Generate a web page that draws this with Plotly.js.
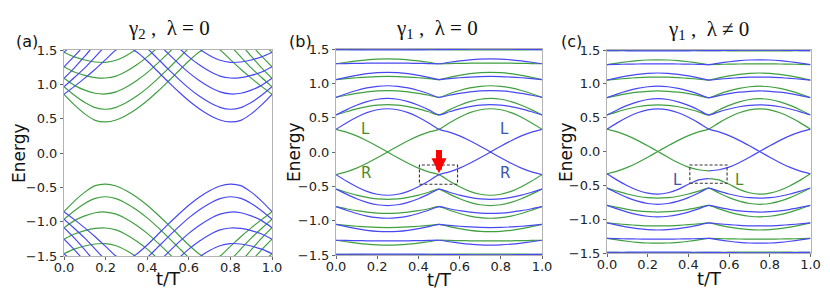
<!DOCTYPE html>
<html><head><meta charset="utf-8">
<script src="https://cdn.plot.ly/plotly-3.0.1.min.js"></script>
<style>html,body{margin:0;padding:0;background:#fff}</style>
</head><body><div id="chart" style="width:830px;height:302px"></div>
<script>
// ---- shared grids ----
const T   = [0,0.05,0.1,0.15,0.2,0.25,0.3,0.35,0.4,0.45,0.5,0.55,0.6,0.65,0.7,0.75,0.8,0.85,0.9,0.95,1.0];
const TH1 = [0,0.05,0.1,0.15,0.2,0.25,0.3,0.35,0.4,0.45,0.5];
const TH2 = [0.5,0.55,0.6,0.65,0.7,0.75,0.8,0.85,0.9,0.95,1.0];
const xTicks = [0,0.2,0.4,0.6,0.8,1.0];
const yTicks = [-1.5,-1.0,-0.5,0,0.5,1.0,1.5];

// ---- panel (a): gamma2, lambda = 0 ----
const aG1 = [0.854,0.70,0.57,0.475,0.452,0.48,0.55,0.645,0.76,0.895,1.04,1.19,1.34,1.47,1.55,1.50,1.36,1.22,1.09,0.97,0.854];
const aB1 = [0.854,0.97,1.09,1.22,1.36,1.50,1.55,1.47,1.34,1.19,1.04,0.895,0.76,0.645,0.55,0.48,0.452,0.475,0.57,0.70,0.854];
const aG2 = [0.965,0.84,0.735,0.66,0.637,0.665,0.735,0.83,0.945,1.08,1.225,1.375,1.525,1.66,1.74,1.70,1.56,1.40,1.24,1.10,0.965];
const aB2 = [0.965,1.10,1.24,1.40,1.56,1.70,1.74,1.66,1.525,1.375,1.225,1.08,0.945,0.83,0.735,0.665,0.637,0.66,0.735,0.84,0.965];
const aG3 = [1.087,0.985,0.915,0.87,0.86,0.89,0.96,1.055,1.17,1.305,1.45,1.60,1.75,1.88,1.95,1.90,1.76,1.59,1.41,1.24,1.087];
const aB3 = [1.087,1.24,1.41,1.59,1.76,1.90,1.95,1.88,1.75,1.60,1.45,1.305,1.17,1.055,0.96,0.89,0.86,0.87,0.915,0.985,1.087];
const aG4 = [1.256,1.18,1.13,1.098,1.092,1.12,1.19,1.285,1.40,1.535,1.68,1.83,1.98,2.1,2.16,2.1,1.95,1.77,1.58,1.41,1.256];
const aB4 = [1.256,1.41,1.58,1.77,1.95,2.1,2.16,2.1,1.98,1.83,1.68,1.535,1.40,1.285,1.19,1.12,1.092,1.098,1.13,1.18,1.256];
const aG5 = [1.466,1.40,1.355,1.325,1.32,1.35,1.42,1.515,1.63,1.765,1.91,2.06,2.2,2.3,2.35,2.3,2.15,1.97,1.78,1.61,1.466];
const aB5 = [1.466,1.61,1.78,1.97,2.15,2.3,2.35,2.3,2.2,2.06,1.91,1.765,1.63,1.515,1.42,1.35,1.32,1.325,1.355,1.40,1.466];
const aGL1 = [-0.854,-0.70,-0.57,-0.475,-0.452,-0.48,-0.55,-0.645,-0.76,-0.895,-1.04,-1.19,-1.34,-1.47,-1.55,-1.50,-1.36,-1.22,-1.09,-0.97,-0.854];
const aBL1 = [-0.854,-0.97,-1.09,-1.22,-1.36,-1.50,-1.55,-1.47,-1.34,-1.19,-1.04,-0.895,-0.76,-0.645,-0.55,-0.48,-0.452,-0.475,-0.57,-0.70,-0.854];
const aGL2 = [-0.965,-0.84,-0.735,-0.66,-0.637,-0.665,-0.735,-0.83,-0.945,-1.08,-1.225,-1.375,-1.525,-1.66,-1.74,-1.70,-1.56,-1.40,-1.24,-1.10,-0.965];
const aBL2 = [-0.965,-1.10,-1.24,-1.40,-1.56,-1.70,-1.74,-1.66,-1.525,-1.375,-1.225,-1.08,-0.945,-0.83,-0.735,-0.665,-0.637,-0.66,-0.735,-0.84,-0.965];
const aGL3 = [-1.087,-0.985,-0.915,-0.87,-0.86,-0.89,-0.96,-1.055,-1.17,-1.305,-1.45,-1.60,-1.75,-1.88,-1.95,-1.90,-1.76,-1.59,-1.41,-1.24,-1.087];
const aBL3 = [-1.087,-1.24,-1.41,-1.59,-1.76,-1.90,-1.95,-1.88,-1.75,-1.60,-1.45,-1.305,-1.17,-1.055,-0.96,-0.89,-0.86,-0.87,-0.915,-0.985,-1.087];
const aGL4 = [-1.256,-1.18,-1.13,-1.098,-1.092,-1.12,-1.19,-1.285,-1.40,-1.535,-1.68,-1.83,-1.98,-2.1,-2.16,-2.1,-1.95,-1.77,-1.58,-1.41,-1.256];
const aBL4 = [-1.256,-1.41,-1.58,-1.77,-1.95,-2.1,-2.16,-2.1,-1.98,-1.83,-1.68,-1.535,-1.40,-1.285,-1.19,-1.12,-1.092,-1.098,-1.13,-1.18,-1.256];
const aGL5 = [-1.466,-1.40,-1.355,-1.325,-1.32,-1.35,-1.42,-1.515,-1.63,-1.765,-1.91,-2.06,-2.2,-2.3,-2.35,-2.3,-2.15,-1.97,-1.78,-1.61,-1.466];
const aBL5 = [-1.466,-1.61,-1.78,-1.97,-2.15,-2.3,-2.35,-2.3,-2.2,-2.06,-1.91,-1.765,-1.63,-1.515,-1.42,-1.35,-1.32,-1.325,-1.355,-1.40,-1.466];

// ---- panel (b): gamma1, lambda = 0 ----
const bGR  = [-0.33,-0.29,-0.235,-0.165,-0.085,0,0.085,0.165,0.235,0.29,0.33,0.423,0.506,0.573,0.615,0.63,0.615,0.573,0.506,0.423,0.33];
const bGL  = [0.33,0.29,0.235,0.165,0.085,0,-0.085,-0.165,-0.235,-0.29,-0.33,-0.423,-0.506,-0.573,-0.615,-0.63,-0.615,-0.573,-0.506,-0.423,-0.33];
const bBP  = [0.33,0.423,0.506,0.573,0.615,0.63,0.615,0.573,0.506,0.423,0.33,0.29,0.235,0.165,0.085,0,-0.085,-0.165,-0.235,-0.29,-0.33];
const bBM  = [-0.33,-0.423,-0.506,-0.573,-0.615,-0.63,-0.615,-0.573,-0.506,-0.423,-0.33,-0.29,-0.235,-0.165,-0.085,0,0.085,0.165,0.235,0.29,0.33];
const bG054 = [0.54,0.586,0.628,0.661,0.683,0.69,0.683,0.661,0.628,0.586,0.54,0.614,0.681,0.734,0.768,0.78,0.768,0.734,0.681,0.614,0.54];
const bB054 = [0.54,0.614,0.681,0.734,0.768,0.78,0.768,0.734,0.681,0.614,0.54,0.586,0.628,0.661,0.683,0.69,0.683,0.661,0.628,0.586,0.54];
const bG079 = [0.795,0.826,0.854,0.876,0.89,0.895,0.89,0.876,0.854,0.826,0.795,0.848,0.895,0.933,0.957,0.965,0.957,0.933,0.895,0.848,0.795];
const bB079 = [0.795,0.848,0.895,0.933,0.957,0.965,0.957,0.933,0.895,0.848,0.795,0.826,0.854,0.876,0.89,0.895,0.89,0.876,0.854,0.826,0.795];
const bG105 = [1.055,1.069,1.081,1.091,1.098,1.10,1.098,1.091,1.081,1.069,1.055,1.087,1.117,1.14,1.155,1.16,1.155,1.14,1.117,1.087,1.055];
const bB105 = [1.055,1.087,1.117,1.14,1.155,1.16,1.155,1.14,1.117,1.087,1.055,1.069,1.081,1.091,1.098,1.10,1.098,1.091,1.081,1.069,1.055];
const bG128 = [1.285,1.307,1.326,1.342,1.352,1.355,1.352,1.342,1.326,1.307,1.285,1.288,1.291,1.293,1.295,1.295,1.295,1.293,1.291,1.288,1.285];
const bB128 = [1.285,1.288,1.291,1.293,1.295,1.295,1.295,1.293,1.291,1.288,1.285,1.307,1.326,1.342,1.352,1.355,1.352,1.342,1.326,1.307,1.285];
const bG149 = [1.49,1.492,1.494,1.496,1.497,1.497,1.497,1.496,1.494,1.492,1.49,1.489,1.488,1.487,1.487,1.487,1.487,1.487,1.488,1.489,1.49];
const bB149 = [1.49,1.489,1.488,1.487,1.487,1.487,1.487,1.487,1.488,1.489,1.49,1.492,1.494,1.496,1.497,1.497,1.497,1.496,1.494,1.492,1.49];
const bGm054 = [-0.54,-0.586,-0.628,-0.661,-0.683,-0.69,-0.683,-0.661,-0.628,-0.586,-0.54,-0.614,-0.681,-0.734,-0.768,-0.78,-0.768,-0.734,-0.681,-0.614,-0.54];
const bBm054 = [-0.54,-0.614,-0.681,-0.734,-0.768,-0.78,-0.768,-0.734,-0.681,-0.614,-0.54,-0.586,-0.628,-0.661,-0.683,-0.69,-0.683,-0.661,-0.628,-0.586,-0.54];
const bGm079 = [-0.795,-0.826,-0.854,-0.876,-0.89,-0.895,-0.89,-0.876,-0.854,-0.826,-0.795,-0.848,-0.895,-0.933,-0.957,-0.965,-0.957,-0.933,-0.895,-0.848,-0.795];
const bBm079 = [-0.795,-0.848,-0.895,-0.933,-0.957,-0.965,-0.957,-0.933,-0.895,-0.848,-0.795,-0.826,-0.854,-0.876,-0.89,-0.895,-0.89,-0.876,-0.854,-0.826,-0.795];
const bGm105 = [-1.055,-1.069,-1.081,-1.091,-1.098,-1.10,-1.098,-1.091,-1.081,-1.069,-1.055,-1.087,-1.117,-1.14,-1.155,-1.16,-1.155,-1.14,-1.117,-1.087,-1.055];
const bBm105 = [-1.055,-1.087,-1.117,-1.14,-1.155,-1.16,-1.155,-1.14,-1.117,-1.087,-1.055,-1.069,-1.081,-1.091,-1.098,-1.10,-1.098,-1.091,-1.081,-1.069,-1.055];
const bGm128 = [-1.285,-1.307,-1.326,-1.342,-1.352,-1.355,-1.352,-1.342,-1.326,-1.307,-1.285,-1.288,-1.291,-1.293,-1.295,-1.295,-1.295,-1.293,-1.291,-1.288,-1.285];
const bBm128 = [-1.285,-1.288,-1.291,-1.293,-1.295,-1.295,-1.295,-1.293,-1.291,-1.288,-1.285,-1.307,-1.326,-1.342,-1.352,-1.355,-1.352,-1.342,-1.326,-1.307,-1.285];
const bGm149 = [-1.49,-1.492,-1.494,-1.496,-1.497,-1.497,-1.497,-1.496,-1.494,-1.492,-1.49,-1.489,-1.488,-1.487,-1.487,-1.487,-1.487,-1.487,-1.488,-1.489,-1.49];
const bBm149 = [-1.49,-1.489,-1.488,-1.487,-1.487,-1.487,-1.487,-1.487,-1.488,-1.489,-1.49,-1.492,-1.494,-1.496,-1.497,-1.497,-1.497,-1.496,-1.494,-1.492,-1.49];

// ---- panel (c): gamma1, lambda != 0 (gap opened at t/T = 0.5, E ~ -0.33) ----
const cGL1  = [0.33,0.29,0.235,0.165,0.085,0,-0.085,-0.165,-0.23,-0.27,-0.285];
const cBUp2 = [-0.285,-0.27,-0.23,-0.165,-0.085,0,0.085,0.165,0.235,0.29,0.33];
const cBDip1 = [-0.33,-0.423,-0.506,-0.573,-0.615,-0.63,-0.61,-0.56,-0.485,-0.42,-0.40];
const cGDip2 = [-0.40,-0.42,-0.485,-0.56,-0.61,-0.63,-0.615,-0.573,-0.506,-0.423,-0.33];

const GREEN = '#40a040', BLUE = '#4848f4';
const traces = [];
function line(ax, xs, ys, color){
  traces.push({type:'scatter', mode:'lines', x:xs, y:ys, xaxis:'x'+ax, yaxis:'y'+ax,
    line:{color:color, width:1.2, shape:'spline', smoothing:0.7}, hoverinfo:'skip'});
}
// (a)
[aG1,aG2,aG3,aG4,aG5,aGL1,aGL2,aGL3,aGL4,aGL5].forEach(s=>line('',T,s,GREEN));
[aB1,aB2,aB3,aB4,aB5,aBL1,aBL2,aBL3,aBL4,aBL5].forEach(s=>line('',T,s,BLUE));
// (b)
const bGreens = [bGR,bGL,bG054,bG079,bG105,bG128,bG149,bGm054,bGm079,bGm105,bGm128,bGm149];
const bBlues  = [bBP,bBM,bB054,bB079,bB105,bB128,bB149,bBm054,bBm079,bBm105,bBm128,bBm149];
bGreens.forEach(s=>line('2',T,s,GREEN));
bBlues.forEach(s=>line('2',T,s,BLUE));
// (c)
[bGR,bG054,bG079,bG105,bG128,bG149,bGm054,bGm079,bGm105,bGm128,bGm149].forEach(s=>line('3',T,s,GREEN));
line('3',TH1,cGL1,GREEN); line('3',TH2,cGDip2,GREEN);
[bBP,bB054,bB079,bB105,bB128,bB149,bBm054,bBm079,bBm105,bBm128,bBm149].forEach(s=>line('3',T,s,BLUE));
line('3',TH1,cBDip1,BLUE); line('3',TH2,cBUp2,BLUE);

function xax(dom, anchor){ return {domain:dom, anchor:anchor, range:[0,1], showgrid:false, zeroline:false,
  showline:true, mirror:true, linecolor:'#b3b3b3', linewidth:1, ticks:'outside', ticklen:3, tickcolor:'#666',
  tickvals:xTicks, tickformat:'.1f', tickfont:{size:13, color:'#222'}, ticklabelstandoff:-4, fixedrange:true}; }
function yax(dom, anchor){ return {domain:dom, anchor:anchor, range:[-1.5,1.5], showgrid:false, zeroline:false,
  showline:true, mirror:true, linecolor:'#b3b3b3', linewidth:1, ticks:'outside', ticklen:3, tickcolor:'#666',
  tickvals:yTicks, tickformat:'.1f', tickfont:{size:13, color:'#222'}, fixedrange:true}; }

const H = 302, W = 830;
const py = v => 1 - v/H, px = v => v/W;
const TF = {family:'Liberation Serif, Times New Roman, serif', size:21, color:'#111'};
const SF = {family:'DejaVu Sans, sans-serif', size:16, color:'#111'};
const AF = {family:'DejaVu Sans, sans-serif', size:17, color:'#111'};
const LG = {family:'DejaVu Sans, sans-serif', size:15, color:'#4a8a2a'};
const LB = {family:'DejaVu Sans, sans-serif', size:15, color:'#3a56aa'};
function pa(text, x, y, font, extra){
  return Object.assign({text:text, x:px(x), y:py(y), xref:'paper', yref:'paper', xanchor:'center', yanchor:'middle',
    showarrow:false, font:font}, extra||{});
}
const annotations = [
  pa('γ<sub>2</sub> ,  λ = 0', 169, 29, TF),
  pa('γ<sub>1</sub> ,  λ = 0', 437, 29, TF),
  pa('γ<sub>1</sub> ,  λ ≠ 0', 708, 30, TF),
  pa('(a)', 27, 41, SF), pa('(b)', 300, 41, SF), pa('(c)', 571, 41, SF),
  pa('Energy', 19, 153, AF, {textangle:-90}),
  pa('Energy', 294, 152, AF, {textangle:-90}),
  pa('Energy', 566, 152, AF, {textangle:-90}),
  pa('t/T', 168, 278, {...AF,size:18}),
  pa('t/T', 439, 279, {...AF,size:18}),
  pa('t/T', 709, 278, {...AF,size:18}),
  {text:'L', x:0.145, y:0.33, xref:'x2', yref:'y2', showarrow:false, font:LG},
  {text:'R', x:0.145, y:-0.31, xref:'x2', yref:'y2', showarrow:false, font:LG},
  {text:'L', x:0.82, y:0.33, xref:'x2', yref:'y2', showarrow:false, font:LB},
  {text:'R', x:0.82, y:-0.31, xref:'x2', yref:'y2', showarrow:false, font:LB},
  {text:'L', x:0.345, y:-0.42, xref:'x3', yref:'y3', showarrow:false, font:LB},
  {text:'L', x:0.65, y:-0.42, xref:'x3', yref:'y3', showarrow:false, font:LG},
  {text:'', x:0.5, y:-0.31, xref:'x2', yref:'y2', ax:0.5, ay:0.05, axref:'x2', ayref:'y2',
   showarrow:true, arrowhead:2, arrowsize:0.5, arrowwidth:6, arrowcolor:'#ff0000', standoff:0}
];
const shapes = [
  {type:'rect', xref:'x2', yref:'y2', x0:0.405, x1:0.59, y0:-0.47, y1:-0.19, line:{color:'#333', width:1.1, dash:'3px,2px'}},
  {type:'rect', xref:'x3', yref:'y3', x0:0.407, x1:0.59, y0:-0.47, y1:-0.20, line:{color:'#333', width:1.1, dash:'3px,2px'}}
];

const layout = {
  width:W, height:H, margin:{l:0,r:0,t:0,b:0}, showlegend:false,
  paper_bgcolor:'#fff', plot_bgcolor:'#fff',
  font:{family:'DejaVu Sans, sans-serif', size:13, color:'#222'},
  xaxis:  xax([px(64), px(272)], 'y'),
  yaxis:  yax([py(256), py(50)], 'x'),
  xaxis2: xax([px(336), px(542)], 'y2'),
  yaxis2: yax([py(255), py(49)], 'x2'),
  xaxis3: xax([px(607), px(810.5)], 'y3'),
  yaxis3: yax([py(253), py(50)], 'x3'),
  annotations: annotations, shapes: shapes
};
Plotly.newPlot('chart', traces, layout, {displayModeBar:false, staticPlot:true});
</script></body></html>
